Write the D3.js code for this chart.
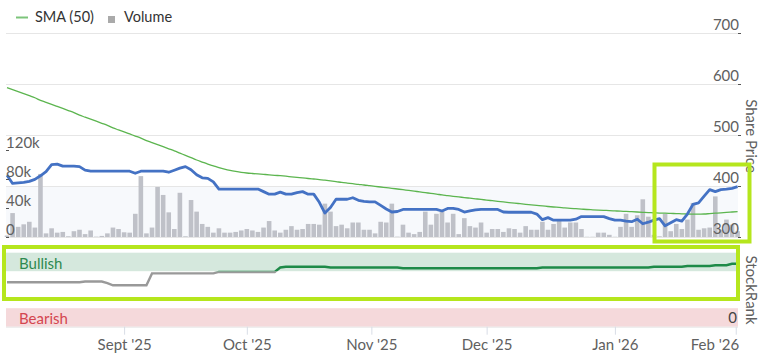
<!DOCTYPE html>
<html><head><meta charset="utf-8">
<script src="https://cdnjs.cloudflare.com/ajax/libs/d3/7.8.5/d3.min.js"></script>
<style>
html,body{margin:0;padding:0;background:#fff;}
svg{display:block;font-family:Lato,"Open Sans",sans-serif;}
</style></head>
<body><svg id="c" width="764" height="360"></svg>
<script>
// ---------- DATA ----------
const startDate = new Date(2025, 7, 1);   // first trading day shown
const endDate = new Date(2026, 1, 2);     // last trading day shown
const priceTicks = [300, 400, 500, 600, 700];
const volumeTicks = [0, 40000, 80000, 120000];
const volumeTickLabels = ["0", "40k", "80k", "120k"];
const rankTicks = [0];
const monthTicks = [new Date(2025,8,1), new Date(2025,9,1), new Date(2025,10,1), new Date(2025,11,1), new Date(2026,0,1), new Date(2026,1,1)];
const monthLabels = ["Sept '25", "Oct '25", "Nov '25", "Dec '25", "Jan '26", "Feb '26"];

// share price (pence)
const price = [421,405,406,407,409,413,420,428,442,443,439,439,439,438,431,429,
429,429,429,429,429,429,429,425,429,429,429,429,429,427,431,435,438,432,422,416,415,408,
394,394,394,394,394,394,394,394,389,384,384,388,384,384,387,389,384,384,368,347,358,374,
374,374,377,372,370,369,369,362,355,349,350,354,354,354,354,354,354,354,351,356,356,354,
349,351,353,354,354,354,354,349,348.5,348.5,348.5,348.5,348.5,345,334,338,333,333,333,333,
335,340,340,340,340,340,336,333,333,331,330,335,326,329,333,336,322,328,334,331,345,364,
367,380,393,389,393,394,395.5,398.6];

// 50-day simple moving average
const sma50 = [593,589,585,581,577,573,568,564,560,556,552,548,544,539,535,531,527,523,519,
514,510,506,502,498,494,489,485,481,477,473,469,464.5,460,455.5,451,447,443,439.5,436,433,
430.5,428.5,426.8,425.5,424.5,423.6,422.8,422,421,420.2,419.2,418,416.9,415.9,414.7,413.7,412.7,
411.4,410,408.6,407,405.7,404.5,403.1,402,400.6,399.2,398,396.7,395.5,394.1,392.7,391.4,
390,388.4,387,385.5,384.1,382.5,381.2,379.8,378.6,377.3,376.1,374.9,373.7,372.4,371.2,370,
368.8,367.6,366.5,365.3,364.1,363.1,362,361,359.8,358.8,358,357,356.3,355.5,354.7,353.9,
353.3,352.7,352.2,351.8,351.2,350.6,350.2,349.6,349,348.4,347.8,347.4,347,346.7,346.3,
345.9,345.5,345.1,344.9,344.7,345.1,345.9,346.7,347.5,348.2,349,349.8];

// daily volume (thousands of shares)
const volumeK = [2,33,14,17.5,21,13,87,5,12,6,7,1,8,10,4,9,0.5,1.5,5,13,11,6.5,6,32,84,5,13,
69,58,34,11,61,1,51,35,18,14,6,12,6,6,7,9,11,9,7,13,22,9,6,10,15,10,11,18,18,17,46,35,15,
17,12,20,20,10,10,5,21,20,46,0.5,17,6,4,7,35,17,32,35,20,32,4,26,15,13,20,6,11,11,7,12,11,
6,15,10,10,21,10,18,24,13,20,20,11,0.3,0.3,6,6,3,0.3,14,32,14,30,52,28,3,1,32,8,18,11,24,
47,10,12,13,56,10,24,17,8];

// StockRank
const stockRank = [60,60,60,60,60,60,60,60,60,60,60,60,60,60,61,61,61,61,59,56,56,56,56,56,
56,56,72,72,72,72,72,72,72,72,72,72,72,72,74,74,74,74,74,74,74,74,74,74,74,80,81,81,81,81,
81,81,81,81,80,80,80,80,80,80,80,80,80,80,80,80,80,79,79,79,79,79,79,79,79,79,79,79,79,79,
79,79,79,79,79,79,79,79,79,79,79,79,80,80,80,80,80,80,80,80,80,80,80,80,80,80,80,80,80,80,
80,80,81,81,81,81,81,81,82,82,82,82,82,83,83,83,85,85];
const rankBands = [{from:75,to:100,label:"Bullish"},{from:0,to:25,label:"Bearish"}];
const rankThreshold = 75;

// ---------- BUILD ----------
const dates = d3.timeDay.range(startDate, d3.timeDay.offset(endDate,1)).filter(d => d.getDay()!==0 && d.getDay()!==6);
const N = dates.length;
const rows = dates.map((d,i)=>({i, date:d, price:price[i], sma:sma50[i], vol:volumeK[i]*1000, rank:stockRank[i]}));

const svg = d3.select("#c");
const L = 6, R = 738;
const FS = 15;
const xi = d3.scaleLinear().domain([0, N-1]).range([7, 737.6]);
const xt = d3.scaleTime().domain(dates).range(dates.map((d,i)=>xi(i)));
const yP = d3.scaleLinear().domain([300,700]).range([237,33]);
const yV = d3.scaleLinear().domain([0,120000]).range([237,150]);
const yR = d3.scaleLinear().domain([0,100]).range([326.7,252.7]);

const AX = "#606060";

// lower price pane tint
svg.append("rect").attr("x",L).attr("y",yP(400)).attr("width",R-L).attr("height",yP(300)-yP(400)).attr("fill","#f7f9fc");

// gridlines
svg.append("g").selectAll("line").data(priceTicks).join("line")
  .attr("x1",L).attr("x2",R).attr("y1",d=>Math.round(yP(d))+0.5).attr("y2",d=>Math.round(yP(d))+0.5)
  .attr("stroke","#e6e6e6").attr("stroke-width",1);

// volume bars
svg.append("g").selectAll("rect").data(rows).join("rect")
  .attr("x",d=>xi(d.i)-2.3).attr("width",4.6)
  .attr("y",d=>yV(d.vol)).attr("height",d=>yV(0)-yV(d.vol))
  .attr("fill","#bfc1c8");

// SMA line
svg.append("path").datum(rows).attr("fill","none").attr("stroke","#5cb54f").attr("stroke-width",1.3)
  .attr("d", d3.line().curve(d3.curveMonotoneX).x(d=>xi(d.i)).y(d=>yP(d.sma)));

// price line
svg.append("path").datum(rows).attr("fill","none").attr("stroke","#4472c4").attr("stroke-width",2.8)
  .attr("stroke-linejoin","round")
  .attr("d", d3.line().x(d=>xi(d.i)).y(d=>yP(d.price)));

// StockRank bands
svg.append("g").selectAll("rect").data(rankBands).join("rect")
  .attr("x",L).attr("width",R-L).attr("y",d=>yR(d.to)).attr("height",d=>yR(d.from)-yR(d.to))
  .attr("fill",(d,i)=>i===0?"#d5e8dd":"#f5d9db");
svg.append("g").selectAll("text").data(rankBands).join("text")
  .attr("x",19).attr("y",d=>yR(d.from)-2.5).text(d=>d.label)
  .attr("font-size",FS).attr("fill",(d,i)=>i===0?"#2e8a50":"#d4454f");

// StockRank line with zones
const defs = svg.append("defs");
const ty = yR(rankThreshold);
defs.append("clipPath").attr("id","cpHi").append("rect").attr("x",0).attr("y",0).attr("width",764).attr("height",ty);
defs.append("clipPath").attr("id","cpLo").append("rect").attr("x",0).attr("y",ty).attr("width",764).attr("height",360-ty);
const rLine = d3.line().x(d=>xi(d.i)).y(d=>yR(d.rank));
svg.append("path").datum(rows).attr("fill","none").attr("stroke","#999").attr("stroke-width",2.4)
  .attr("clip-path","url(#cpLo)").attr("d",rLine);
svg.append("path").datum(rows).attr("fill","none").attr("stroke","#1e8a48").attr("stroke-width",2.4)
  .attr("clip-path","url(#cpHi)").attr("d",rLine);

// right price axis
const gR = svg.append("g").attr("transform",`translate(${R},0)`)
  .call(d3.axisRight(yP).tickValues(priceTicks).tickSize(3).tickFormat(d3.format("d")));
gR.select(".domain").remove();
gR.selectAll(".tick line").attr("stroke","#555");
gR.selectAll("text").attr("x",1).attr("dy",0).attr("y",-4).attr("text-anchor","end")
  .attr("font-size",FS).attr("font-family","Lato").attr("fill",AX);

// left volume axis
const gL = svg.append("g").attr("transform",`translate(${L+3},0)`)
  .call(d3.axisLeft(yV).tickValues(volumeTicks).tickSize(3).tickFormat((d,i)=>volumeTickLabels[i]));
gL.select(".domain").remove();
gL.selectAll(".tick line").attr("stroke","#555");
gL.selectAll("text").attr("x",-3).attr("dy",0).attr("y",-3).attr("text-anchor","start")
  .attr("font-size",FS).attr("font-family","Lato").attr("fill",AX);

// StockRank axis
const gS = svg.append("g").attr("transform",`translate(${R},0)`)
  .call(d3.axisRight(yR).tickValues(rankTicks).tickSize(0).tickFormat(d3.format("d")));
gS.select(".domain").remove();
gS.selectAll("text").attr("x",-1).attr("dy",0).attr("y",-4).attr("text-anchor","end")
  .attr("font-size",FS).attr("font-family","Lato").attr("fill","#444");

// bottom axis
const gB = svg.append("g").attr("transform",`translate(0,${yR(0)})`)
  .call(d3.axisBottom(xt).tickValues(monthTicks).tickSize(8).tickFormat((d,i)=>monthLabels[i]));
gB.select(".domain").attr("stroke","#e6e6e6").attr("d",`M${L},0.5H${R}`);
gB.selectAll(".tick line").attr("stroke","#d8dde6");
gB.selectAll("text").attr("y",23).attr("dy",0).attr("font-size",FS).attr("font-family","Lato").attr("fill",AX);
gB.selectAll(".tick").filter((d,i)=>i===monthTicks.length-1).select("text")
  .attr("text-anchor","end").attr("x",3);

// axis titles
svg.append("text").attr("transform","translate(752,136) rotate(90)").attr("text-anchor","middle")
  .attr("dominant-baseline","central").attr("font-size",FS).attr("fill",AX).text("Share Price");
svg.append("text").attr("transform","translate(752,290) rotate(90)").attr("text-anchor","middle")
  .attr("dominant-baseline","central").attr("font-size",FS).attr("fill",AX).text("StockRank");

// legend
const lg = svg.append("g");
lg.append("line").attr("x1",16).attr("x2",28).attr("y1",17.5).attr("y2",17.5).attr("stroke","#7cc47a").attr("stroke-width",2);
lg.append("text").attr("x",35).attr("y",22).attr("font-size",14.5).attr("fill","#333").text("SMA (50)");
lg.append("rect").attr("x",108).attr("y",16).attr("width",7).attr("height",7).attr("fill","#aaa");
lg.append("text").attr("x",124).attr("y",22).attr("font-size",14.5).attr("fill","#333").text("Volume");

// highlight boxes
svg.append("rect").attr("x",4).attr("y",247).attr("width",734).attr("height",52)
  .attr("fill","none").attr("stroke","#b5e61d").attr("stroke-width",4);
svg.append("rect").attr("x",654.5).attr("y",164.5).attr("width",95).attr("height",77)
  .attr("fill","none").attr("stroke","#b5e61d").attr("stroke-width",4);
</script></body></html>
